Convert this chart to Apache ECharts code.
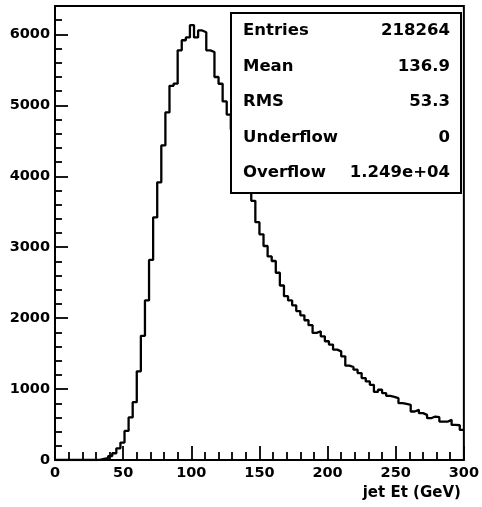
<!DOCTYPE html>
<html>
<head>
<meta charset="utf-8">
<script src="https://cdn.jsdelivr.net/npm/echarts@6/dist/echarts.min.js"></script>
<style>
html,body{margin:0;padding:0;background:#fff;}
#c{width:482px;height:507px;}
</style>
</head>
<body>
<div id="c"></div>
<script>
// Histogram: jet Et, 100 bins from 0 to 300 GeV
var xMin = 0;
var xMax = 300;
var binWidth = 3;
var counts = [
  0,0,0,0,0,0,0,0,0,0,
  3,15,25,55,95,165,245,410,600,815,
  1250,1750,2250,2820,3420,3915,4435,4900,5275,5305,
  5775,5917,5957,6129,5957,6055,6030,5775,5752,5399,
  5304,5055,4870,4660,4460,4260,4060,3860,3654,3352,
  3182,3017,2870,2805,2640,2460,2310,2250,2180,2100,
  2040,1970,1900,1792,1815,1744,1674,1627,1556,1532,
  1461,1330,1311,1273,1226,1155,1108,1060,960,990,
  943,905,890,872,801,790,778,684,707,660,
  636,589,613,603,542,540,566,495,490,424
];
var xTicks = [0, 50, 100, 150, 200, 250, 300];
var yTicks = [0, 1000, 2000, 3000, 4000, 5000, 6000];
var xTitle = 'jet Et (GeV)';
var statNames = ['Entries', 'Mean', 'RMS', 'Underflow', 'Overflow'];
var statValues = ['218264', '136.9', '53.3', '0', '1.249e+04'];

var FONT = 'DejaVu Sans';
var stepData = counts.map(function (v, i) { return [xMin + i * binWidth, v]; });
stepData.push([xMax, counts[counts.length - 1]]);

var chart = echarts.init(document.getElementById('c'), null, {renderer: 'canvas'});

var statEls = [];
statEls.push({
  type: 'rect', z: 100,
  shape: {x: 231, y: 13, width: 230, height: 180},
  style: {fill: '#fff', stroke: '#000', lineWidth: 2}
});
statNames.forEach(function (n, i) {
  var y = 31 + i * 35.5;
  statEls.push({type: 'text', z: 101, x: 243, y: y,
    style: {text: n, fill: '#000', font: 'bold 16.5px "' + FONT + '"', textAlign: 'left', textVerticalAlign: 'middle'}});
  statEls.push({type: 'text', z: 101, x: 450, y: y,
    style: {text: statValues[i], fill: '#000', font: 'bold 16.5px "' + FONT + '"', textAlign: 'right', textVerticalAlign: 'middle'}});
});

chart.setOption({
  animation: false,
  backgroundColor: '#fff',
  grid: {left: 55, right: 15, top: 6, bottom: 47, show: true, borderColor: '#000', borderWidth: 2, backgroundColor: 'transparent'},
  xAxis: {
    type: 'value', min: xMin, max: xMax, interval: 50,
    name: xTitle, nameLocation: 'end', nameGap: -3,
    nameTextStyle: {fontFamily: FONT, fontWeight: 'bold', fontSize: 15, color: '#000', align: 'right', verticalAlign: 'top', padding: [26, 0, 0, 0]},
    axisLine: {show: false},
    axisTick: {show: true, inside: true, length: 14, lineStyle: {color: '#000', width: 1.8}},
    minorTick: {show: true, splitNumber: 5, length: 8, lineStyle: {color: '#000', width: 1.8}},
    splitLine: {show: false},
    axisLabel: {fontFamily: FONT, fontWeight: 'bold', fontSize: 14.5, color: '#000', margin: 6,
      formatter: function (v) { return xTicks.indexOf(v) >= 0 ? String(v) : ''; }}
  },
  yAxis: {
    type: 'value', min: 0, max: 6400, interval: 1000,
    axisLine: {show: false},
    axisTick: {show: true, inside: true, length: 13, lineStyle: {color: '#000', width: 1.8}},
    minorTick: {show: true, splitNumber: 5, length: 7, lineStyle: {color: '#000', width: 1.8}},
    splitLine: {show: false},
    axisLabel: {fontFamily: FONT, fontWeight: 'bold', fontSize: 14.5, color: '#000', margin: 5, showMaxLabel: false,
      formatter: function (v) { return yTicks.indexOf(v) >= 0 ? String(v) : ''; }}
  },
  series: [{
    type: 'line', step: 'end', data: stepData, showSymbol: false, symbol: 'none',
    lineStyle: {color: '#000', width: 2.3}, z: 5, clip: true
  }],
  graphic: {elements: statEls}
});
</script>
</body>
</html>
